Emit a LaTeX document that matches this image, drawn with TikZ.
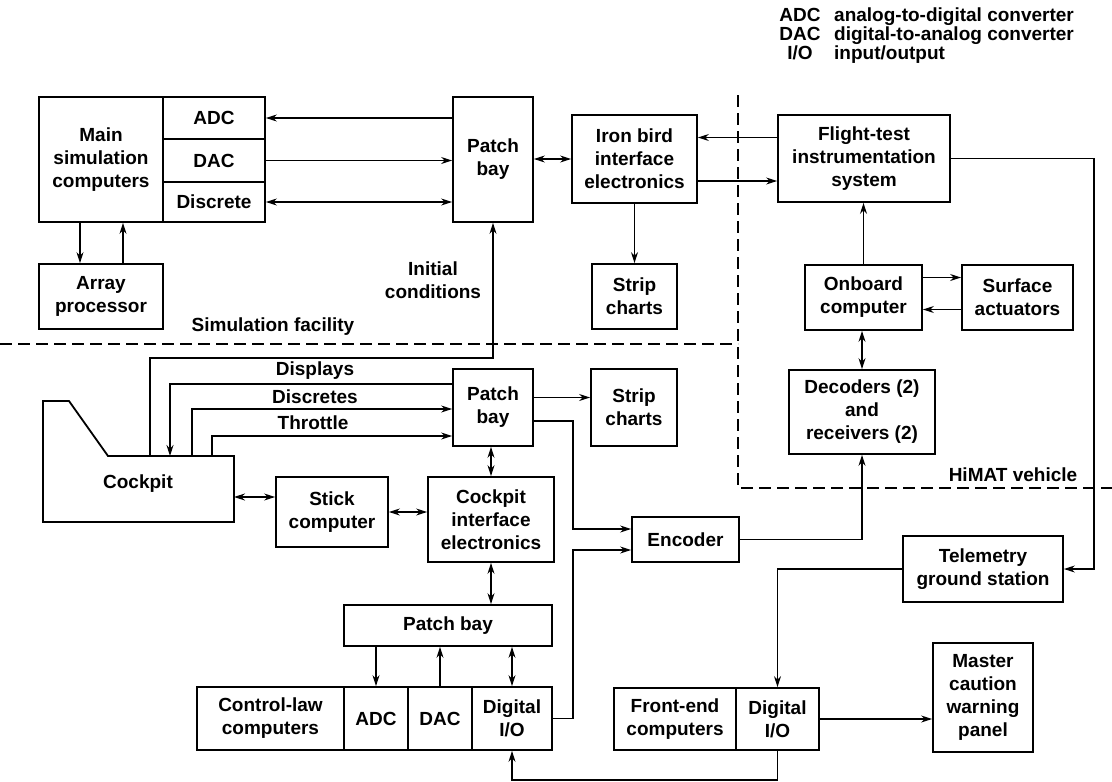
\documentclass[tikz,border=0pt]{standalone}
\usepackage{fontspec}
\setmainfont{Liberation Sans}
\usetikzlibrary{arrows.meta, positioning}

\begin{document}
\begin{tikzpicture}[x=1pt, y=-1pt, font=\fontsize{19}{23}\selectfont\bfseries, >={Stealth[length=11pt,width=7pt]}]

% =========================
% Styles (ALL IN ONE BLOCK)
% =========================
\tikzset{
    blk/.style={draw, line width=1.8pt, align=center, inner sep=0pt},
    outline/.style={line width=1.8pt},
    flow/.style={->, line width=1.3pt},
    dflow/.style={<->, line width=1.3pt},
    zone/.style={line width=1.3pt, dash pattern=on 12pt off 6pt},
    lbl/.style={align=center, inner sep=0pt}
}

\useasboundingbox (0,0) rectangle (1112,782);

% =========================
% Legend
% =========================
\foreach \ab/\txt [count=\k] in {ADC/{analog-to-digital converter}, DAC/{digital-to-analog converter}, {I/O}/{input/output}} {
    \node[lbl, anchor=base] (abbr\k) at (800,2.5+19*\k) {\ab};
    \node[lbl, anchor=base west] (desc\k) at (834,2.5+19*\k) {\txt};
}

% =========================
% Zone boundaries
% =========================
\draw[zone] (0,344) -- (738,344);
\draw[zone] (738,95) -- (738,488) -- (1112,488);
\node[lbl] (lblsim) at (273,327) {Simulation facility};
\node[lbl] (lblhimat) at (1013,475) {HiMAT vehicle};

% =========================
% Simulation facility
% =========================
\node[blk, minimum width=124pt, minimum height=125pt] (simcomp) at (101,159.5) {Main\\simulation\\computers};
\node[blk, minimum width=102pt, minimum height=42pt] (simadc) at (214,118) {ADC};
\node[blk, minimum width=102pt, minimum height=43pt] (simdac) at (214,160.5) {DAC};
\node[blk, minimum width=102pt, minimum height=40pt] (simdisc) at (214,202) {Discrete};
\node[blk, minimum width=124pt, minimum height=65pt] (arrayproc) at (101,296.5) {Array\\processor};
\node[blk, minimum width=80pt, minimum height=125pt] (patchsim) at (493,159.5) {Patch\\bay};
\node[blk, minimum width=125pt, minimum height=88pt] (ironbird) at (634.5,159) {Iron bird\\interface\\electronics};
\node[blk, minimum width=85pt, minimum height=65pt] (stripsim) at (634.5,296.5) {Strip\\charts};
\node[lbl] (lblinit) at (433,280) {Initial\\conditions};

% =========================
% HiMAT vehicle
% =========================
\node[blk, minimum width=172pt, minimum height=87pt] (fltinst) at (864,158.5) {Flight-test\\instrumentation\\system};
\node[blk, minimum width=117pt, minimum height=65pt] (onboard) at (863.5,297.5) {Onboard\\computer};
\node[blk, minimum width=111pt, minimum height=65pt] (surfact) at (1017.5,297.5) {Surface\\actuators};
\node[blk, minimum width=146pt, minimum height=84pt] (decoders) at (862,412) {Decoders (2)\\and\\receivers (2)};

% =========================
% Cockpit side
% =========================
\draw[outline] (234,456) -- (234,522) -- (43,522) -- (43,401) -- (69,401) -- (108,456) -- cycle;
\node[lbl] (cockpit) at (138,484) {Cockpit};
\coordinate (ckpIC) at (150,456);
\coordinate (ckpDisp) at (170,456);
\coordinate (ckpDisc) at (192,456);
\coordinate (ckpThr) at (212,456);
\coordinate (ckpE) at (234,497);
\node[lbl] (lbldisp) at (315,371) {Displays};
\node[lbl] (lbldisc) at (315,397) {Discretes};
\node[lbl] (lblthr) at (313,423) {Throttle};

\node[blk, minimum width=80pt, minimum height=77pt] (patchckp) at (493,407.5) {Patch\\bay};
\node[blk, minimum width=86pt, minimum height=77pt] (stripckp) at (634,407.5) {Strip\\charts};
\node[blk, minimum width=112pt, minimum height=70pt] (stick) at (332,512) {Stick\\computer};
\node[blk, minimum width=126pt, minimum height=85pt] (ckpintf) at (491,519.5) {Cockpit\\interface\\electronics};
\node[blk, minimum width=107pt, minimum height=45pt] (encoder) at (685.5,539.5) {Encoder};
\node[blk, minimum width=160pt, minimum height=66pt] (telemetry) at (983,569) {Telemetry\\ground station};

% =========================
% Control-law and front-end computers
% =========================
\node[blk, minimum width=208pt, minimum height=41pt] (patchcl) at (448,625.5) {Patch bay};
\node[blk, minimum width=147pt, minimum height=63pt] (clawcomp) at (270.5,718.5) {Control-law\\computers};
\node[blk, minimum width=64pt, minimum height=63pt] (cladc) at (376,718.5) {ADC};
\node[blk, minimum width=64pt, minimum height=63pt] (cldac) at (440,718.5) {DAC};
\node[blk, minimum width=80pt, minimum height=63pt] (cldio) at (512,718.5) {Digital\\I/O};
\node[blk, minimum width=122pt, minimum height=62pt] (frontend) at (675,719) {Front-end\\computers};
\node[blk, minimum width=83pt, minimum height=62pt] (fedio) at (777.5,719) {Digital\\I/O};
\node[blk, minimum width=100pt, minimum height=109pt] (mastercw) at (983,697.5) {Master\\caution\\warning\\panel};

% =========================
% Ports
% =========================
\coordinate (ftout) at ([yshift=21pt]fltinst.west);
\coordinate (ftin) at ([yshift=-22pt]ironbird.east);
\coordinate (obout) at ([yshift=20pt]onboard.east);
\coordinate (obin) at ([yshift=-12pt]onboard.east);
\coordinate (pbstrip) at ([yshift=10pt]patchckp.east);
\coordinate (pbenc) at ([yshift=-13.5pt]patchckp.east);
\coordinate (encA) at ([yshift=10.5pt]encoder.west);
\coordinate (encB) at ([yshift=-10.5pt]encoder.west);
\coordinate (pbdisp) at ([yshift=23.5pt]patchckp.west);
\coordinate (pbdisc) at ([yshift=-1.5pt]patchckp.west);
\coordinate (pbthr) at ([yshift=-28.5pt]patchckp.west);

% =========================
% Connectors
% =========================
\draw[flow] (simadc.east -| patchsim.west) -- (simadc.east);
\draw[flow] (simdac.east) -- (simdac.east -| patchsim.west);
\draw[dflow] (simdisc.east) -- (simdisc.east -| patchsim.west);
\draw[flow] ([xshift=-21pt]simcomp.south) -- ([xshift=-21pt]arrayproc.north);
\draw[flow] ([xshift=22pt]arrayproc.north) -- ([xshift=22pt]simcomp.south);
\draw[dflow] (patchsim.east |- ironbird.west) -- (ironbird.west);
\draw[flow] (ftout) -- (ftout -| ironbird.east);
\draw[flow] (ftin) -- (ftin -| fltinst.west);
\draw[flow] (ironbird.south) -- (stripsim.north);

\draw[flow] (fltinst.east) -- ++(143,0) |- (telemetry.east);
\draw[flow] (onboard.north) -- (onboard.north |- fltinst.south);
\draw[flow] (obout) -- (obout -| surfact.west);
\draw[flow] (obin -| surfact.west) -- (obin);
\draw[dflow] (decoders.north |- onboard.south) -- (decoders.north);
\draw[flow] (encoder.east) -| (decoders.south);

\draw[flow] (ckpIC) -- ++(0,-98) -| (patchsim.south);
\draw[flow] (pbdisp) -| (ckpDisp);
\draw[flow] (ckpDisc) |- (pbdisc);
\draw[flow] (ckpThr) |- (pbthr);
\draw[flow] (pbstrip) -- (pbstrip -| stripckp.west);
\draw[flow] (pbenc) -- ++(39,0) |- (encA);
\draw[dflow] (ckpintf.north |- patchckp.south) -- (ckpintf.north);
\draw[dflow] (ckpE) -- (ckpE -| stick.west);
\draw[dflow] (stick.east) -- (stick.east -| ckpintf.west);
\draw[dflow] (ckpintf.south) -- (ckpintf.south |- patchcl.north);

\draw[flow] (cladc.north |- patchcl.south) -- (cladc.north);
\draw[flow] (cldac.north) -- (cldac.north |- patchcl.south);
\draw[dflow] (cldio.north |- patchcl.south) -- (cldio.north);
\draw[flow] (cldio.east) -- ++(20,0) |- (encB);
\draw[flow] (telemetry.west) -| (fedio.north);
\draw[flow] (fedio.east) -- (fedio.east -| mastercw.west);
\draw[flow] (fedio.south) -- ++(0,29) -| (cldio.south);

\end{tikzpicture}
\end{document}
